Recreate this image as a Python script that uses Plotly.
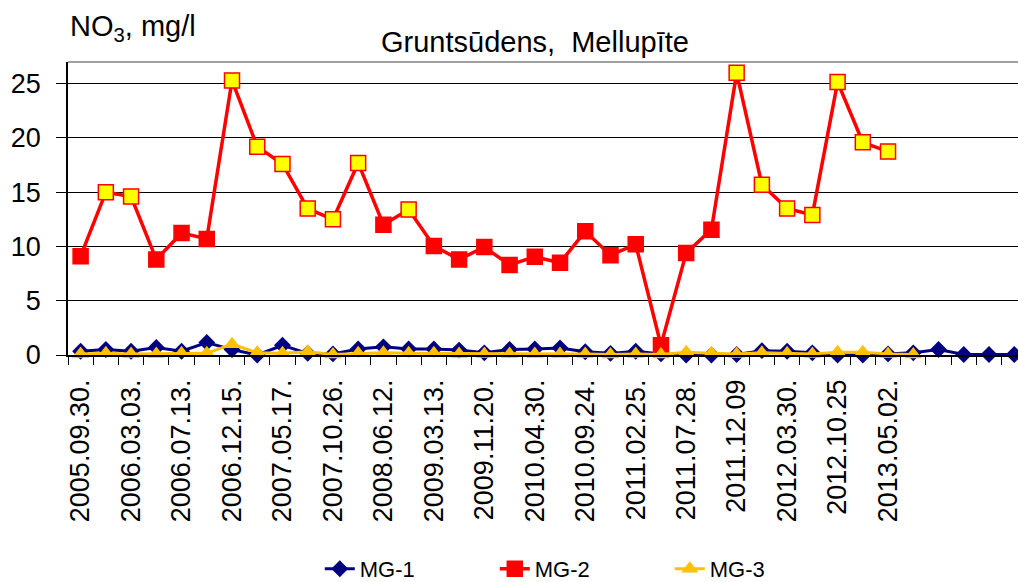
import plotly.graph_objects as go

# every other sampling date is printed on the axis
tick_labels = ["2005.09.30.", "2006.03.03.", "2006.07.13.", "2006.12.15.", "2007.05.17.",
               "2007.10.26.", "2008.06.12.", "2009.03.13.", "2009.11.20.", "2010.04.30.",
               "2010.09.24.", "2011.02.25.", "2011.07.28.", "2011.12.09", "2012.03.30.",
               "2012.10.25", "2013.05.02."]

mg1 = [0.35, 0.5, 0.35, 0.7, 0.35, 1.15, 0.5, 0.0, 0.9, 0.15,
       0.1, 0.55, 0.75, 0.55, 0.55, 0.45, 0.2, 0.5, 0.55, 0.65,
       0.3, 0.15, 0.35, 0.1, 0.0, 0.0, 0.05, 0.4, 0.35, 0.2,
       0.0, 0.0, 0.1, 0.2, 0.5, 0.05, 0.05, 0.05]

mg2 = [9.1, 15.0, 14.6, 8.8, 11.25, 10.7, 25.3, 19.2, 17.6, 13.5,
       12.5, 17.7, 12.0, 13.4, 10.05, 8.8, 9.95, 8.3, 9.05, 8.5,
       11.4, 9.2, 10.2, 0.9, 9.4, 11.55, 26.0, 15.7, 13.5, 12.9,
       25.15, 19.6, 18.75]
# points drawn with a yellow fill
mg2_marked = [1, 2, 6, 7, 8, 9, 10, 11, 13, 26, 27, 28, 29, 30, 31, 32]

mg3 = [0.1, 0.15, 0.1, 0.1, 0.15, 0.15, 1.0, 0.2, 0.15, 0.3,
       0.05, 0.15, 0.2, 0.15, 0.15, 0.1, 0.1, 0.1, 0.1, 0.1,
       0.1, 0.05, 0.1, 0.05, 0.25, 0.15, 0.1, 0.2, 0.15, 0.1,
       0.25, 0.25, 0.1, 0.05]

font = "Liberation Sans, Arial, sans-serif"

fig = go.Figure()
fig.add_trace(go.Scatter(x=list(range(len(mg1))), y=mg1, name="MG-1", mode="lines+markers",
                         line=dict(color="#000080", width=3),
                         marker=dict(symbol="diamond", size=13, color="#000080"),
                         cliponaxis=False))
fig.add_trace(go.Scatter(x=list(range(len(mg2))), y=mg2, name="MG-2", mode="lines+markers",
                         line=dict(color="#FF0000", width=3.5),
                         marker=dict(symbol="square", size=15,
                                     color=["#FFFF00" if i in mg2_marked else "#FF0000"
                                            for i in range(len(mg2))],
                                     line=dict(color="#FF0000", width=1.5)),
                         cliponaxis=False))
fig.add_trace(go.Scatter(x=list(range(len(mg3))), y=mg3, name="MG-3", mode="lines+markers",
                         line=dict(color="#FFC000", width=3),
                         marker=dict(symbol="triangle-up", size=15, color="#FFC000"),
                         cliponaxis=False))

fig.update_layout(
    width=1018, height=582,
    margin=dict(l=68, r=0, t=62, b=227),
    paper_bgcolor="white", plot_bgcolor="white",
    font=dict(family=font, size=26, color="black"),
    title=dict(text="Gruntsūdens,  Mellupīte", x=0.5255, xanchor="center",
               y=1 - 42 / 582, yanchor="middle", font=dict(size=29)),
    showlegend=True,
    legend=dict(orientation="h", xref="container", yref="container",
                x=0.572, xanchor="center", y=1 - 569 / 582, yanchor="middle",
                font=dict(size=22), entrywidth=130, itemwidth=30),
    annotations=[dict(text="NO<sub>3</sub>, mg/l", xref="paper", yref="paper",
                      x=0.0, y=1 + 34 / 293, xanchor="left", yanchor="middle",
                      showarrow=False, font=dict(size=29))],
    shapes=[dict(type="line", xref="paper", yref="paper", x0=0, x1=1, y0=1, y1=1,
                 line=dict(color="#808080", width=1.5))],
)

fig.update_xaxes(range=[-0.5, 37.15], tickmode="array", automargin=False,
                 tickvals=list(range(0, 2 * len(tick_labels), 2)), ticktext=tick_labels,
                 tickangle=-90, ticks="", showgrid=False, zeroline=False,
                 showline=True, linecolor="black", linewidth=1.5,
                 tickfont=dict(size=27), ticklabelstandoff=12,
                 minor=dict(tickmode="linear", tick0=0.5, dtick=1, ticks="outside",
                            ticklen=8, tickcolor="black", tickwidth=1.2, showgrid=False))
fig.update_yaxes(range=[0, 27], tickvals=[0, 5, 10, 15, 20, 25], ticks="outside",
                 automargin=False, ticklen=10, tickcolor="black", tickwidth=1.2,
                 showgrid=True, gridcolor="black", gridwidth=1.3, zeroline=False,
                 showline=True, linecolor="black", linewidth=1.5,
                 tickfont=dict(size=27), ticklabelstandoff=10)

# drop the default page margin so the chart sits at the window's corner
fig.write_html("out.html", config={"displayModeBar": False},
               post_script="document.body.style.margin='0';")
